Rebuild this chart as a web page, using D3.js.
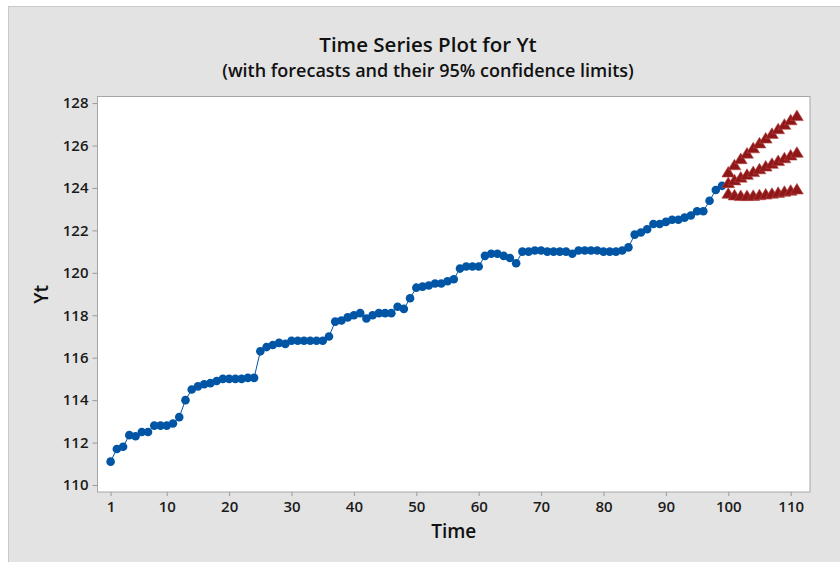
<!DOCTYPE html>
<html>
<head>
<meta charset="utf-8">
<script src="https://cdn.jsdelivr.net/npm/d3@7"></script>
<style>
  html, body { margin: 0; padding: 0; background: #ffffff; }
  svg { display: block; }
</style>
</head>
<body>
<script>
// ---- data ----
const yt = [
  111.1, 111.7, 111.8, 112.35, 112.3, 112.5, 112.5, 112.8, 112.8, 112.8,
  112.9, 113.2, 114.0, 114.5, 114.65, 114.75, 114.8, 114.9, 115.0, 115.0,
  115.0, 115.0, 115.05, 115.05, 116.3, 116.5, 116.6, 116.7, 116.65, 116.8,
  116.8, 116.8, 116.8, 116.8, 116.8, 117.0, 117.7, 117.75, 117.9, 118.0,
  118.1, 117.85, 118.0, 118.1, 118.1, 118.1, 118.4, 118.3, 118.8, 119.3,
  119.35, 119.4, 119.5, 119.5, 119.6, 119.7, 120.2, 120.3, 120.3, 120.3,
  120.8, 120.9, 120.9, 120.8, 120.7, 120.45, 121.0, 121.0, 121.05, 121.05,
  121.0, 121.0, 121.0, 121.0, 120.9, 121.05, 121.05, 121.05, 121.05, 121.0,
  121.0, 121.0, 121.05, 121.2, 121.8, 121.9, 122.05, 122.3, 122.3, 122.4,
  122.5, 122.5, 122.6, 122.7, 122.9, 122.9, 123.4, 123.9, 124.1
];
const forecastStart = 100;
const forecast = [124.25, 124.38, 124.51, 124.64, 124.77, 124.90, 125.03, 125.16, 125.29, 125.42, 125.55, 125.68];
const upperLimit = [124.75, 125.09, 125.38, 125.64, 125.89, 126.12, 126.35, 126.57, 126.79, 127.00, 127.21, 127.41];
const lowerLimit = [123.75, 123.67, 123.64, 123.64, 123.65, 123.68, 123.71, 123.75, 123.79, 123.84, 123.89, 123.95];
const xTicks = [1, 10, 20, 30, 40, 50, 60, 70, 80, 90, 100, 110];
const yTicks = [110, 112, 114, 116, 118, 120, 122, 124, 126, 128];
const titleText = "Time Series Plot for Yt";
const subtitleText = "(with forecasts and their 95% confidence limits)";
const xLabel = "Time";
const yLabel = "Yt";

// ---- layout ----
const W = 840, H = 562;
const plot = { left: 97.5, right: 810, top: 96.5, bottom: 492 };
const FONT = "'Open Sans', 'Noto Sans', sans-serif";

const svg = d3.select("body").append("svg").attr("width", W).attr("height", H);

svg.append("rect").attr("x", 8.5).attr("y", 6.5).attr("width", W).attr("height", H)
  .attr("fill", "#e3e3e3").attr("stroke", "#c9c9c9").attr("stroke-width", 1);

svg.append("rect").attr("x", plot.left).attr("y", plot.top)
  .attr("width", plot.right - plot.left).attr("height", plot.bottom - plot.top)
  .attr("fill", "#ffffff").attr("stroke", "#a6a6a6").attr("stroke-width", 1);

const x = d3.scaleLinear().domain([-1.1, 113.1]).range([plot.left, plot.right]);
const y = d3.scaleLinear().domain([109.67, 128.31]).range([plot.bottom, plot.top]);

// axes
const xAxis = svg.append("g").attr("transform", `translate(0,${plot.bottom})`)
  .call(d3.axisBottom(x).tickValues(xTicks).tickSize(4).tickPadding(5).tickSizeOuter(0));
const yAxis = svg.append("g").attr("transform", `translate(${plot.left},0)`)
  .call(d3.axisLeft(y).tickValues(yTicks).tickSize(5).tickPadding(4).tickSizeOuter(0));
[xAxis, yAxis].forEach(g => {
  g.select(".domain").remove();
  g.selectAll(".tick line").attr("stroke", "#9a9a9a");
  g.selectAll(".tick text").attr("fill", "#1a1a1a")
    .style("font-family", FONT).style("font-size", "15px").style("font-weight", "600");
});

// series line + points
const obs = yt.map((v, i) => ({ t: i + 1, v }));
svg.append("path").datum(obs)
  .attr("fill", "none").attr("stroke", "#0055a5").attr("stroke-width", 1)
  .attr("d", d3.line().x(d => x(d.t)).y(d => y(d.v)));
svg.append("g").selectAll("circle").data(obs).join("circle")
  .attr("cx", d => x(d.t)).attr("cy", d => y(d.v)).attr("r", 4.3)
  .attr("fill", "#0055a5");

// forecasts and limits (triangles)
const tri = "M0,-5.6L6.4,5L-6.4,5Z";
[upperLimit, forecast, lowerLimit].forEach(arr => {
  const pts = arr.map((v, i) => ({ t: forecastStart + i, v }));
  svg.append("g").selectAll("path").data(pts).join("path")
    .attr("d", tri)
    .attr("transform", d => `translate(${x(d.t)},${y(d.v)})`)
    .attr("fill", "#8f1717").attr("stroke", "#b54545").attr("stroke-width", 0.6);
});

// titles
const tx = 428;
svg.append("text").attr("x", tx).attr("y", 52).attr("text-anchor", "middle")
  .style("font-family", FONT).style("font-size", "20.5px").style("font-weight", "600")
  .attr("fill", "#111").text(titleText);
svg.append("text").attr("x", tx).attr("y", 77).attr("text-anchor", "middle")
  .style("font-family", FONT).style("font-size", "18px").style("font-weight", "600")
  .attr("fill", "#111").text(subtitleText);

const cx = (plot.left + plot.right) / 2;
svg.append("text").attr("x", cx).attr("y", 538).attr("text-anchor", "middle")
  .style("font-family", FONT).style("font-size", "19px").style("font-weight", "600")
  .attr("fill", "#111").text(xLabel);
svg.append("text").attr("transform", `translate(48,${(plot.top + plot.bottom) / 2}) rotate(-90)`)
  .attr("text-anchor", "middle")
  .style("font-family", FONT).style("font-size", "19px").style("font-weight", "600")
  .attr("fill", "#111").text(yLabel);
</script>
</body>
</html>
